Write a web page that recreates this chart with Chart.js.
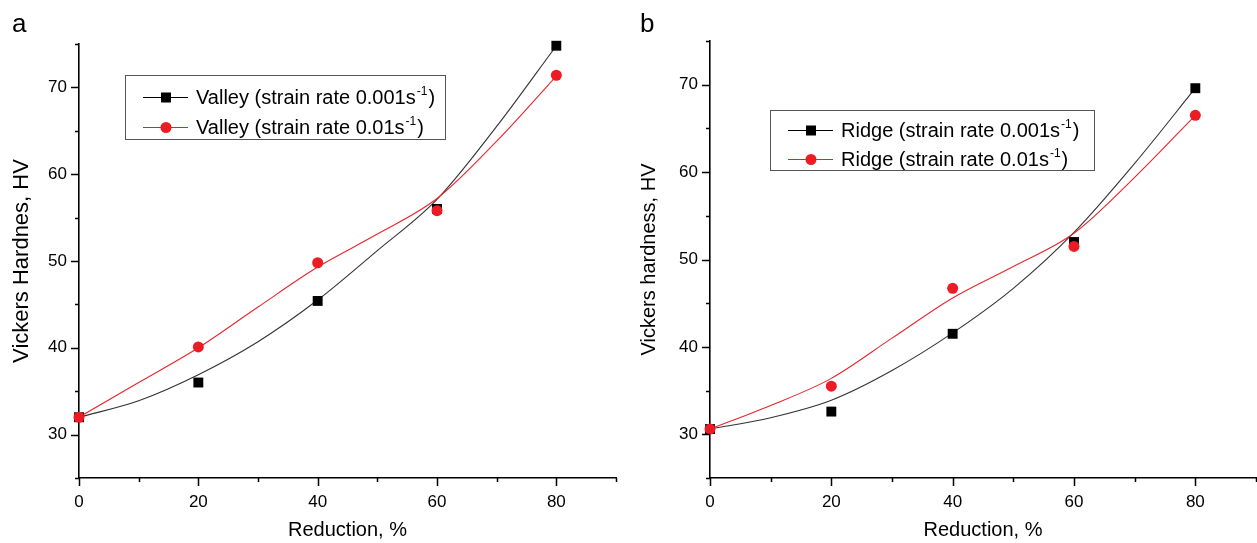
<!DOCTYPE html>
<html>
<head>
<meta charset="utf-8">
<title>Vickers hardness vs reduction</title>
<script src="https://cdn.jsdelivr.net/npm/chart.js@4.4.1/dist/chart.umd.min.js"></script>
<style>
    html, body { margin: 0; padding: 0; background: #fff; overflow: hidden; }
    .panel { position: absolute; top: 0; height: 543px; }
</style>
</head>
<body>
<div class="panel" style="left:0; width:628px;"><canvas id="valleyChart"></canvas></div>
<div class="panel" style="left:628px; width:629px;"><canvas id="ridgeChart"></canvas></div>
<script>
// Measured hardness at each reduction step
var reduction = [0, 20, 40, 60, 80];
var valleySlow = [32.0, 36.0, 45.4, 56.0, 74.8];
var valleyFast = [32.0, 40.1, 49.8, 55.8, 71.4];
var ridgeSlow = [30.6, 32.6, 41.5, 52.0, 69.6];
var ridgeFast = [30.6, 35.5, 46.7, 51.5, 66.5];

// Fitted trend curves, sampled every 10 %
var fitReduction = [0, 10, 20, 30, 40, 50, 60, 70, 80];
var valleySlowFit = [32.0, 33.9, 36.9, 40.7, 45.5, 51.2, 57.1, 65.5, 74.8];
var valleyFastFit = [32.0, 36.0, 40.0, 44.7, 49.3, 53.1, 57.2, 63.8, 71.3];
var ridgeSlowFit = [30.6, 31.9, 33.9, 37.3, 41.6, 46.7, 53.1, 61.0, 69.6];
var ridgeFastFit = [30.6, 33.3, 36.4, 41.0, 45.6, 49.2, 53.0, 59.4, 66.5];

// Strain rates shown in the legends
var strainRates = ['0.001', '0.01'];

var FONT = "'Liberation Sans', Arial, sans-serif";
var BLACK = '#000000';
var RED = '#ed1c24';

Chart.defaults.font.family = FONT;
Chart.defaults.color = '#000';

function toPoints(xs, ys) {
    return xs.map(function (x, i) { return { x: x, y: ys[i] }; });
}

// Tick marks drawn outward, long at labelled values and short in between
var axisTicks = {
    id: 'axisTicks',
    afterDraw: function (chart) {
        var ctx = chart.ctx;
        var xs = chart.scales.x, ys = chart.scales.y;
        ctx.save();
        ctx.strokeStyle = '#000';
        ctx.lineWidth = 1.5;
        ctx.beginPath();
        xs.ticks.forEach(function (t) {
            var px = Math.round(xs.getPixelForValue(t.value)) + 0.5;
            var len = (t.value % 20 === 0) ? 8 : 4;
            ctx.moveTo(px, xs.top);
            ctx.lineTo(px, xs.top + len);
        });
        ys.ticks.forEach(function (t) {
            var py = Math.round(ys.getPixelForValue(t.value)) + 0.5;
            var len = (t.value % 10 === 0) ? 8 : 4;
            ctx.moveTo(ys.right, py);
            ctx.lineTo(ys.right - len, py);
        });
        ctx.stroke();
        ctx.restore();
    }
};

// Boxed legend with line + marker samples and a superscript unit
var boxLegend = {
    id: 'boxLegend',
    afterDraw: function (chart, args, opts) {
        var ctx = chart.ctx;
        ctx.save();
        ctx.strokeStyle = '#555';
        ctx.lineWidth = 1;
        ctx.strokeRect(opts.left + 0.5, opts.top + 0.5, opts.width, opts.height);

        opts.items.forEach(function (item, i) {
            var cy = opts.top + opts.firstRow + i * opts.rowGap;
            var x0 = opts.left + opts.sampleStart;
            // sample line
            ctx.strokeStyle = item.color;
            ctx.lineWidth = 1;
            ctx.beginPath();
            ctx.moveTo(x0, cy + 0.5);
            ctx.lineTo(x0 + 45, cy + 0.5);
            ctx.stroke();
            // sample marker
            ctx.fillStyle = item.color;
            var mx = x0 + 23;
            if (item.marker === 'rect') {
                ctx.fillRect(mx - 5, cy - 4.5, 10, 10);
            } else {
                ctx.beginPath();
                ctx.arc(mx, cy + 0.5, 5.5, 0, Math.PI * 2);
                ctx.fill();
            }
            // label text
            var tx = opts.left + opts.textStart;
            var base = cy + 7;
            ctx.fillStyle = '#000';
            ctx.textBaseline = 'alphabetic';
            ctx.textAlign = 'left';
            ctx.font = '20px ' + FONT;
            var main = item.prefix + ' (strain rate ' + item.rate + 's';
            ctx.fillText(main, tx, base);
            tx += ctx.measureText(main).width + 1;
            ctx.font = '12px ' + FONT;
            ctx.fillText('-1', tx, base - 9);
            tx += ctx.measureText('-1').width + 1;
            ctx.font = '20px ' + FONT;
            ctx.fillText(')', tx, base);
        });
        ctx.restore();
    }
};

// Panel letter in the corner
var panelLetter = {
    id: 'panelLetter',
    afterDraw: function (chart, args, opts) {
        var ctx = chart.ctx;
        ctx.save();
        ctx.fillStyle = '#000';
        ctx.font = '26px ' + FONT;
        ctx.textBaseline = 'alphabetic';
        ctx.fillText(opts.text, opts.x, opts.y);
        ctx.restore();
    }
};

function initHardnessChart(canvasId, cfg) {
    var ctx = document.getElementById(canvasId).getContext('2d');
    return new Chart(ctx, {
        type: 'scatter',
        data: {
            datasets: [{
                label: cfg.prefix + ' ' + strainRates[1],
                data: toPoints(reduction, cfg.fast),
                pointStyle: 'circle',
                pointRadius: 5.5,
                pointBorderWidth: 0,
                backgroundColor: RED,
                borderColor: RED,
                clip: false,
                order: 0
            }, {
                label: cfg.prefix + ' ' + strainRates[0],
                data: toPoints(reduction, cfg.slow),
                pointStyle: 'rect',
                pointRadius: 7,
                pointBorderWidth: 0,
                backgroundColor: BLACK,
                borderColor: BLACK,
                clip: false,
                order: 1
            }, {
                label: cfg.prefix + ' fit ' + strainRates[1],
                data: toPoints(fitReduction, cfg.fastFit),
                showLine: true,
                pointRadius: 0,
                borderColor: '#e8262c',
                borderWidth: 1.1,
                cubicInterpolationMode: 'monotone',
                order: 2
            }, {
                label: cfg.prefix + ' fit ' + strainRates[0],
                data: toPoints(fitReduction, cfg.slowFit),
                showLine: true,
                pointRadius: 0,
                borderColor: '#333',
                borderWidth: 1.1,
                cubicInterpolationMode: 'monotone',
                order: 3
            }]
        },
        options: {
            responsive: true,
            maintainAspectRatio: false,
            animation: false,
            events: [],
            layout: {
                autoPadding: false,
                padding: { left: 0, top: cfg.top, right: cfg.right, bottom: 0 }
            },
            scales: {
                x: {
                    type: 'linear',
                    position: 'bottom',
                    min: 0,
                    max: 90,
                    grid: { display: false, drawTicks: false },
                    border: { display: true, color: '#000', width: 1.6 },
                    ticks: {
                        stepSize: 10,
                        autoSkip: false,
                        maxRotation: 0,
                        padding: 14,
                        font: { size: 17 },
                        callback: function (v) { return (v % 20 === 0 && v < 90) ? v : ''; }
                    },
                    title: {
                        display: true,
                        text: 'Reduction, %',
                        font: { size: 20 },
                        padding: { top: 0, bottom: 1 }
                    },
                    afterFit: function (scale) {
                        scale.height = 543 - cfg.bottom;
                        scale.paddingLeft = 0;
                        scale.paddingRight = 0;
                    }
                },
                y: {
                    type: 'linear',
                    min: 25,
                    max: 75,
                    grid: { display: false, drawTicks: false },
                    border: { display: true, color: '#000', width: 1.6 },
                    ticks: {
                        stepSize: 5,
                        autoSkip: false,
                        padding: 12,
                        font: { size: 17 },
                        callback: function (v) { return (v % 10 === 0) ? v : ''; }
                    },
                    title: {
                        display: true,
                        text: cfg.yTitle,
                        font: { size: cfg.yTitleSize },
                        padding: { top: 21.5 - cfg.yTitleSize * 0.6, bottom: 0 }
                    },
                    afterFit: function (scale) {
                        scale.width = cfg.left;
                        scale.paddingTop = 0;
                        scale.paddingBottom = 0;
                    }
                }
            },
            plugins: {
                legend: { display: false },
                tooltip: { enabled: false },
                boxLegend: {
                    left: cfg.legend.left,
                    top: cfg.legend.top,
                    width: cfg.legend.width,
                    height: cfg.legend.height,
                    firstRow: cfg.legend.firstRow,
                    rowGap: cfg.legend.rowGap,
                    sampleStart: 18,
                    textStart: 71,
                    items: [
                        { prefix: cfg.prefix, rate: strainRates[0], color: BLACK, marker: 'rect' },
                        { prefix: cfg.prefix, rate: strainRates[1], color: RED, marker: 'circle' }
                    ]
                },
                panelLetter: { text: cfg.letter, x: 12, y: 32 }
            }
        },
        plugins: [axisTicks, boxLegend, panelLetter]
    });
}

initHardnessChart('valleyChart', {
    prefix: 'Valley',
    letter: 'a',
    yTitle: 'Vickers Hardnes, HV',
    yTitleSize: 22,
    slow: valleySlow,
    fast: valleyFast,
    slowFit: valleySlowFit,
    fastFit: valleyFastFit,
    left: 79,
    top: 44,
    right: 12,
    bottom: 478,
    legend: { left: 125, top: 75, width: 320, height: 64, firstRow: 22, rowGap: 30 }
});

initHardnessChart('ridgeChart', {
    prefix: 'Ridge',
    letter: 'b',
    yTitle: 'Vickers hardness, HV',
    yTitleSize: 20,
    slow: ridgeSlow,
    fast: ridgeFast,
    slowFit: ridgeSlowFit,
    fastFit: ridgeFastFit,
    left: 82,
    top: 41,
    right: 1,
    bottom: 478,
    legend: { left: 142, top: 110, width: 324, height: 60, firstRow: 20, rowGap: 29 }
});
</script>
</body>
</html>
